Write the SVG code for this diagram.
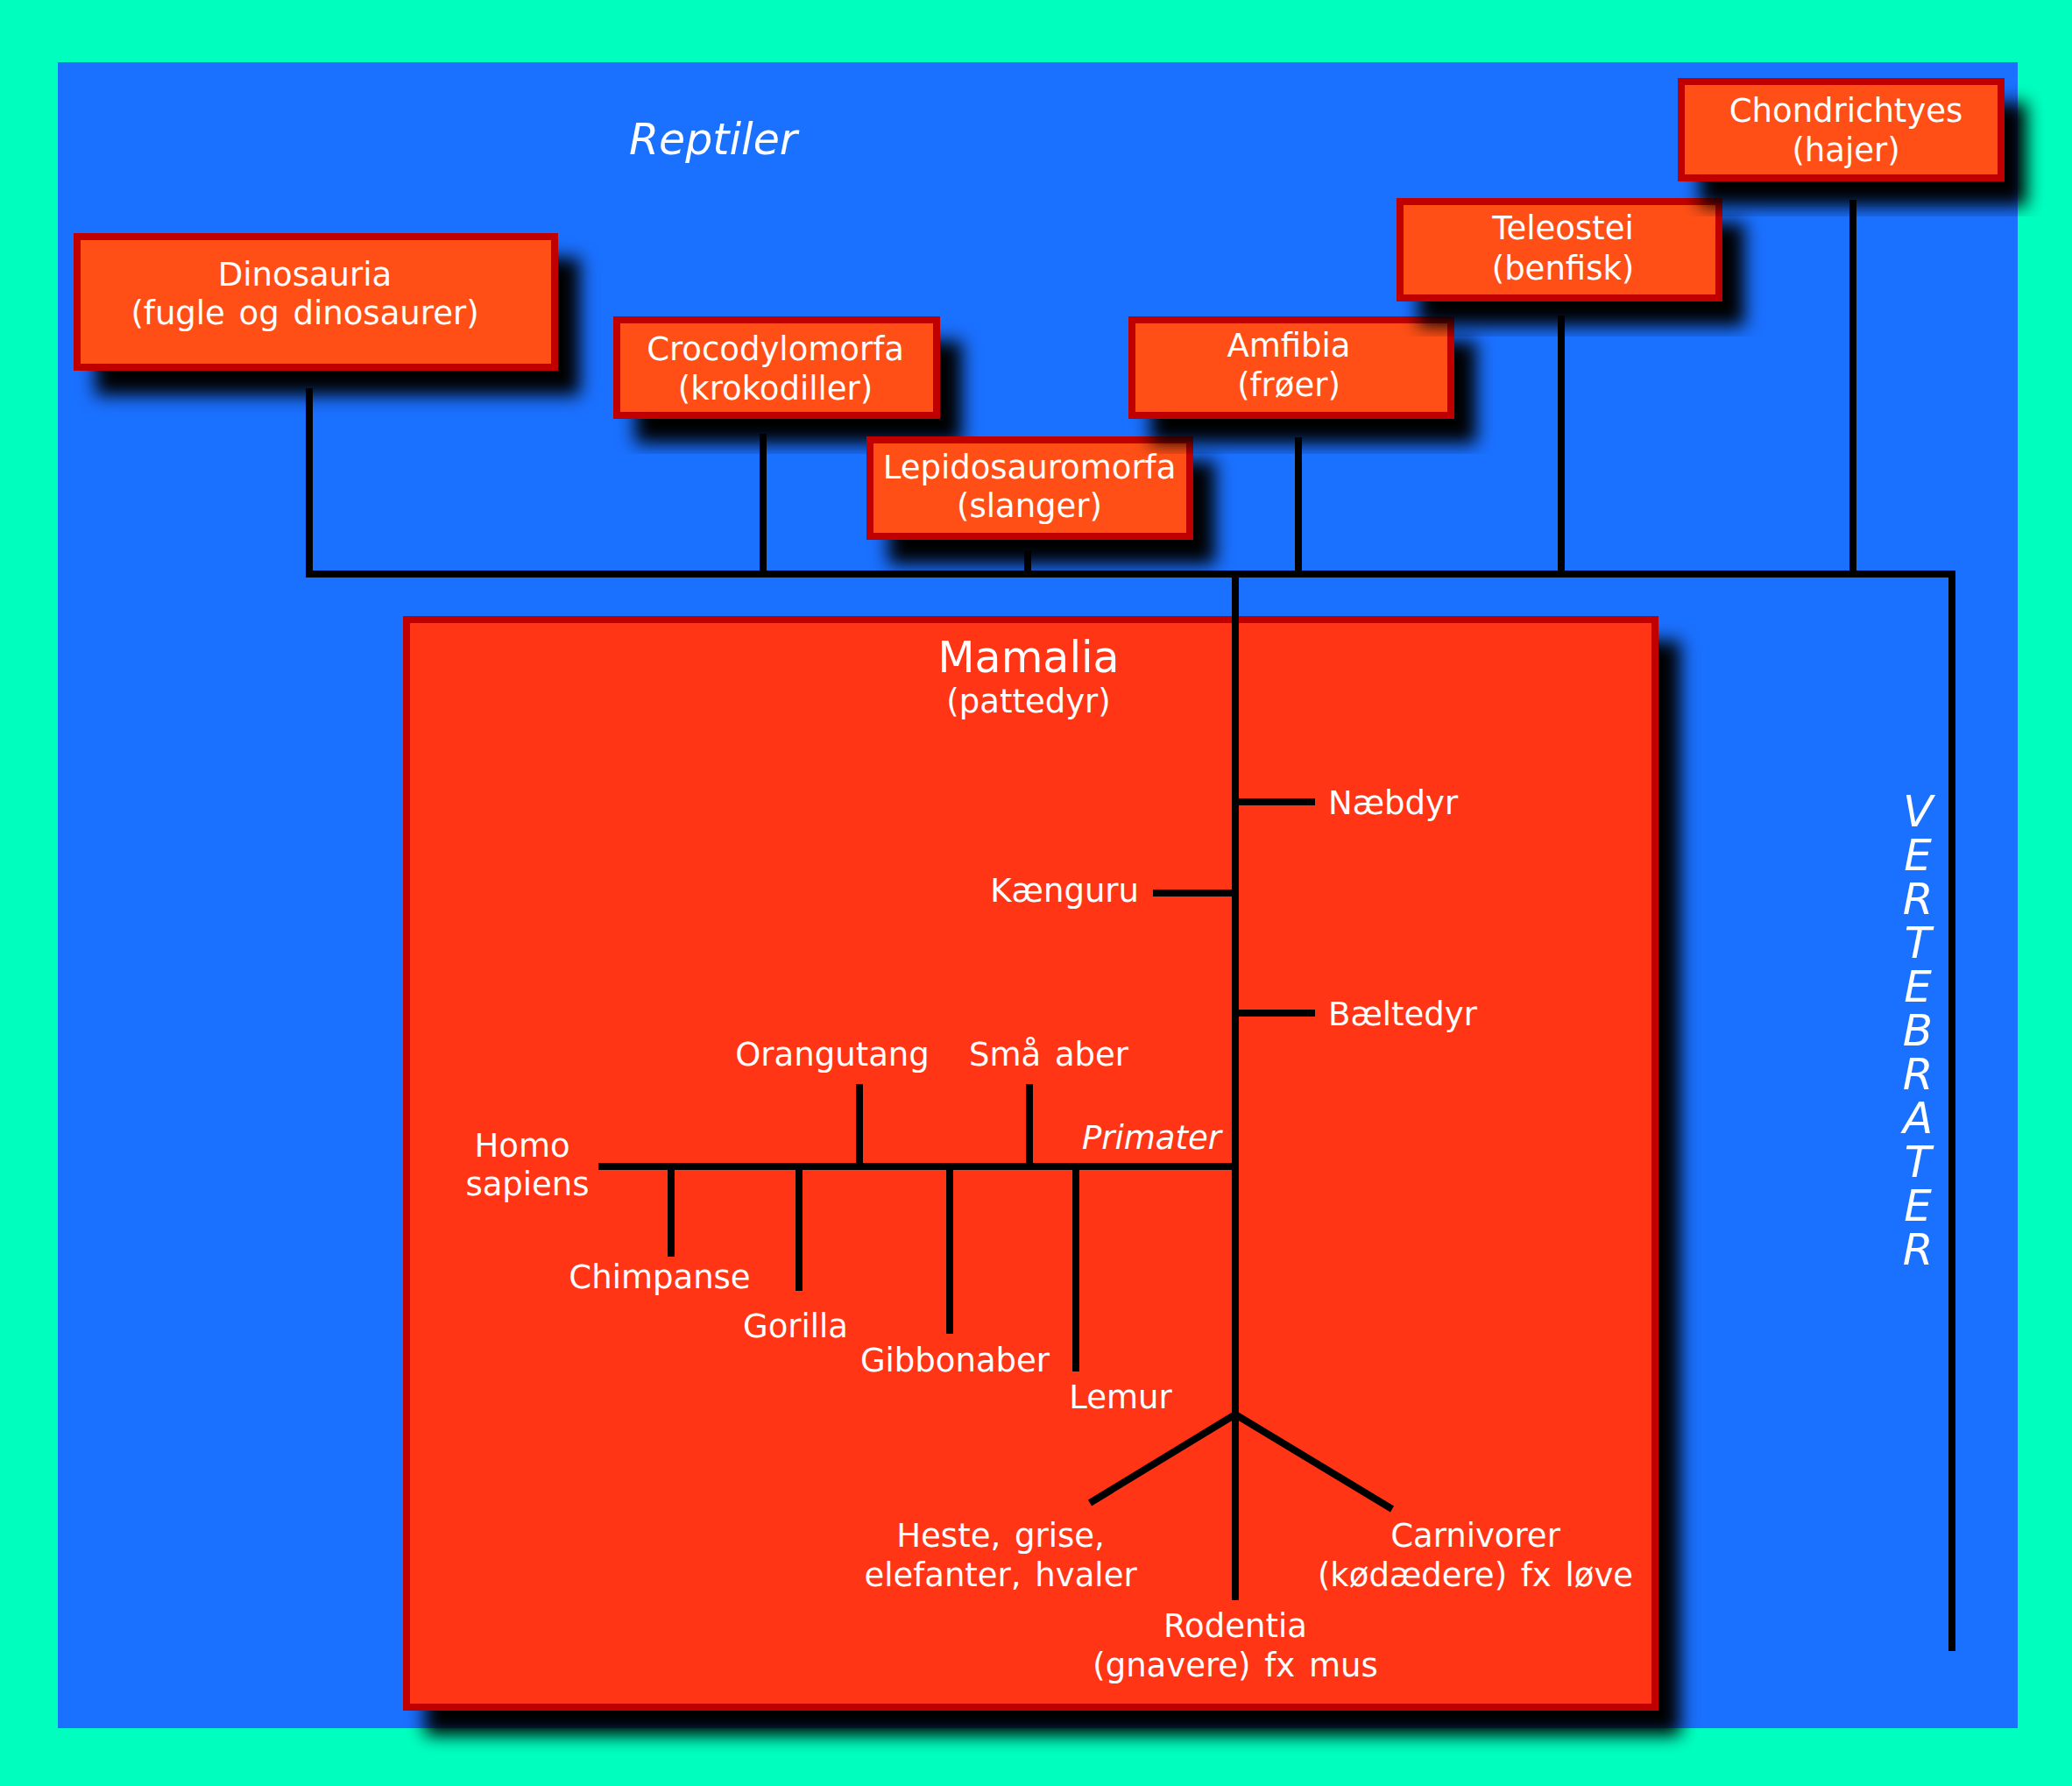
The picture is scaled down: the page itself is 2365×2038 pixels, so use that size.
<svg xmlns="http://www.w3.org/2000/svg" width="2365" height="2038" viewBox="0 0 2365 2038">
<defs>
<filter id="sh" x="-20%" y="-20%" width="150%" height="160%">
<feDropShadow dx="25" dy="28" stdDeviation="10" flood-color="#000" flood-opacity="1"/>
</filter>
</defs>
<style>
.box{fill:#FF5014;stroke:#C00000;stroke-width:8}
.mam{fill:#FF3516;stroke:#C00000;stroke-width:8}
.t{font-family:"DejaVu Sans","Verdana",sans-serif;font-size:37px;fill:#fff;word-spacing:4px}
.c{text-anchor:middle}
.i{font-style:italic}
.ln{fill:none;stroke:#000;stroke-width:8;stroke-linecap:butt;stroke-linejoin:miter}
</style>
<rect width="2365" height="2038" fill="#00FFBF"/>
<rect x="66" y="71" width="2237" height="1901" fill="#1A70FF"/>
<g id="reptiler"><text class="t i c" x="814" y="176" style="font-size:49px">Reptiler</text></g>
<g id="dinosauria">
<rect class="box" x="88" y="270" width="545" height="149" filter="url(#sh)"/>
<text class="t c" x="348" y="326">Dinosauria</text>
<text class="t c" x="348" y="370">(fugle og dinosaurer)</text>
</g>
<g id="crocodylomorfa">
<rect class="box" x="704" y="365" width="365" height="109" filter="url(#sh)"/>
<text class="t c" x="885" y="411">Crocodylomorfa</text>
<text class="t c" x="885" y="456">(krokodiller)</text>
</g>
<g id="lepidosauromorfa">
<rect class="box" x="993" y="502" width="365" height="110" filter="url(#sh)"/>
<text class="t c" x="1175" y="546">Lepidosauromorfa</text>
<text class="t c" x="1175" y="590">(slanger)</text>
</g>
<g id="amfibia">
<rect class="box" x="1292" y="365" width="364" height="109" filter="url(#sh)"/>
<text class="t c" x="1471" y="407">Amfibia</text>
<text class="t c" x="1471" y="452">(frøer)</text>
</g>
<g id="teleostei">
<rect class="box" x="1598" y="230" width="364" height="110" filter="url(#sh)"/>
<text class="t c" x="1784" y="273">Teleostei</text>
<text class="t c" x="1784" y="319">(benfisk)</text>
</g>
<g id="chondrichtyes">
<rect class="box" x="1919" y="93" width="365" height="110" filter="url(#sh)"/>
<text class="t c" x="2107" y="139">Chondrichtyes</text>
<text class="t c" x="2107" y="184">(hajer)</text>
</g>
<g id="mamalia">
<rect class="mam" x="464" y="707" width="1425" height="1241" filter="url(#sh)"/>
<text class="t c" x="1174" y="767" style="font-size:49px">Mamalia</text>
<text class="t c" x="1174" y="813">(pattedyr)</text>
</g>
<g id="vertebrater">
<text class="t i c" x="2189" style="font-size:50px"><tspan x="2189" y="943">V</tspan><tspan x="2189" y="993">E</tspan><tspan x="2189" y="1043">R</tspan><tspan x="2189" y="1093">T</tspan><tspan x="2189" y="1143">E</tspan><tspan x="2189" y="1193">B</tspan><tspan x="2189" y="1243">R</tspan><tspan x="2189" y="1293">A</tspan><tspan x="2189" y="1343">T</tspan><tspan x="2189" y="1393">E</tspan><tspan x="2189" y="1443">R</tspan></text>
</g>
<g id="connectors">
<path class="ln" d="M353,443 V655 H2228 V1884"/>
<path class="ln" d="M871,495 V655 M1173,629 V655 M1482,499 V655 M1782,360 V655 M2115,228 V655"/>
<path class="ln" d="M1410,655 V1826"/>
<path class="ln" d="M1410,915 H1501 M1316,1019 H1410 M1410,1156 H1501"/>
<path class="ln" d="M683,1331 H1410 M981,1237 V1331 M1175,1237 V1331"/>
<path class="ln" d="M766,1331 V1434 M912,1331 V1473 M1084,1331 V1522 M1228,1331 V1565"/>
<path class="ln" d="M1244,1715 L1410,1614 L1589,1722"/>
</g>
<g id="naebdyr"><text class="t" x="1516" y="929">Næbdyr</text></g>
<g id="kaenguru"><text class="t" x="1300" y="1029" text-anchor="end">Kænguru</text></g>
<g id="baeltedyr"><text class="t" x="1516" y="1170">Bæltedyr</text></g>
<g id="orangutang"><text class="t c" x="950" y="1216">Orangutang</text></g>
<g id="smaaaber"><text class="t c" x="1197" y="1216">Små aber</text></g>
<g id="primater"><text class="t i" x="1394" y="1311" text-anchor="end">Primater</text></g>
<g id="homo"><text class="t c" x="596" y="1320">Homo</text><text class="t c" x="602" y="1364">sapiens</text></g>
<g id="chimpanse"><text class="t c" x="753" y="1470">Chimpanse</text></g>
<g id="gorilla"><text class="t c" x="908" y="1526">Gorilla</text></g>
<g id="gibbonaber"><text class="t c" x="1090" y="1565">Gibbonaber</text></g>
<g id="lemur"><text class="t c" x="1279" y="1607">Lemur</text></g>
<g id="heste"><text class="t c" x="1142" y="1765">Heste, grise,</text><text class="t c" x="1142" y="1810">elefanter, hvaler</text></g>
<g id="carnivorer"><text class="t c" x="1684" y="1765">Carnivorer</text><text class="t c" x="1684" y="1810">(kødædere) fx løve</text></g>
<g id="rodentia"><text class="t c" x="1410" y="1868">Rodentia</text><text class="t c" x="1410" y="1913">(gnavere) fx mus</text></g>
</svg>
